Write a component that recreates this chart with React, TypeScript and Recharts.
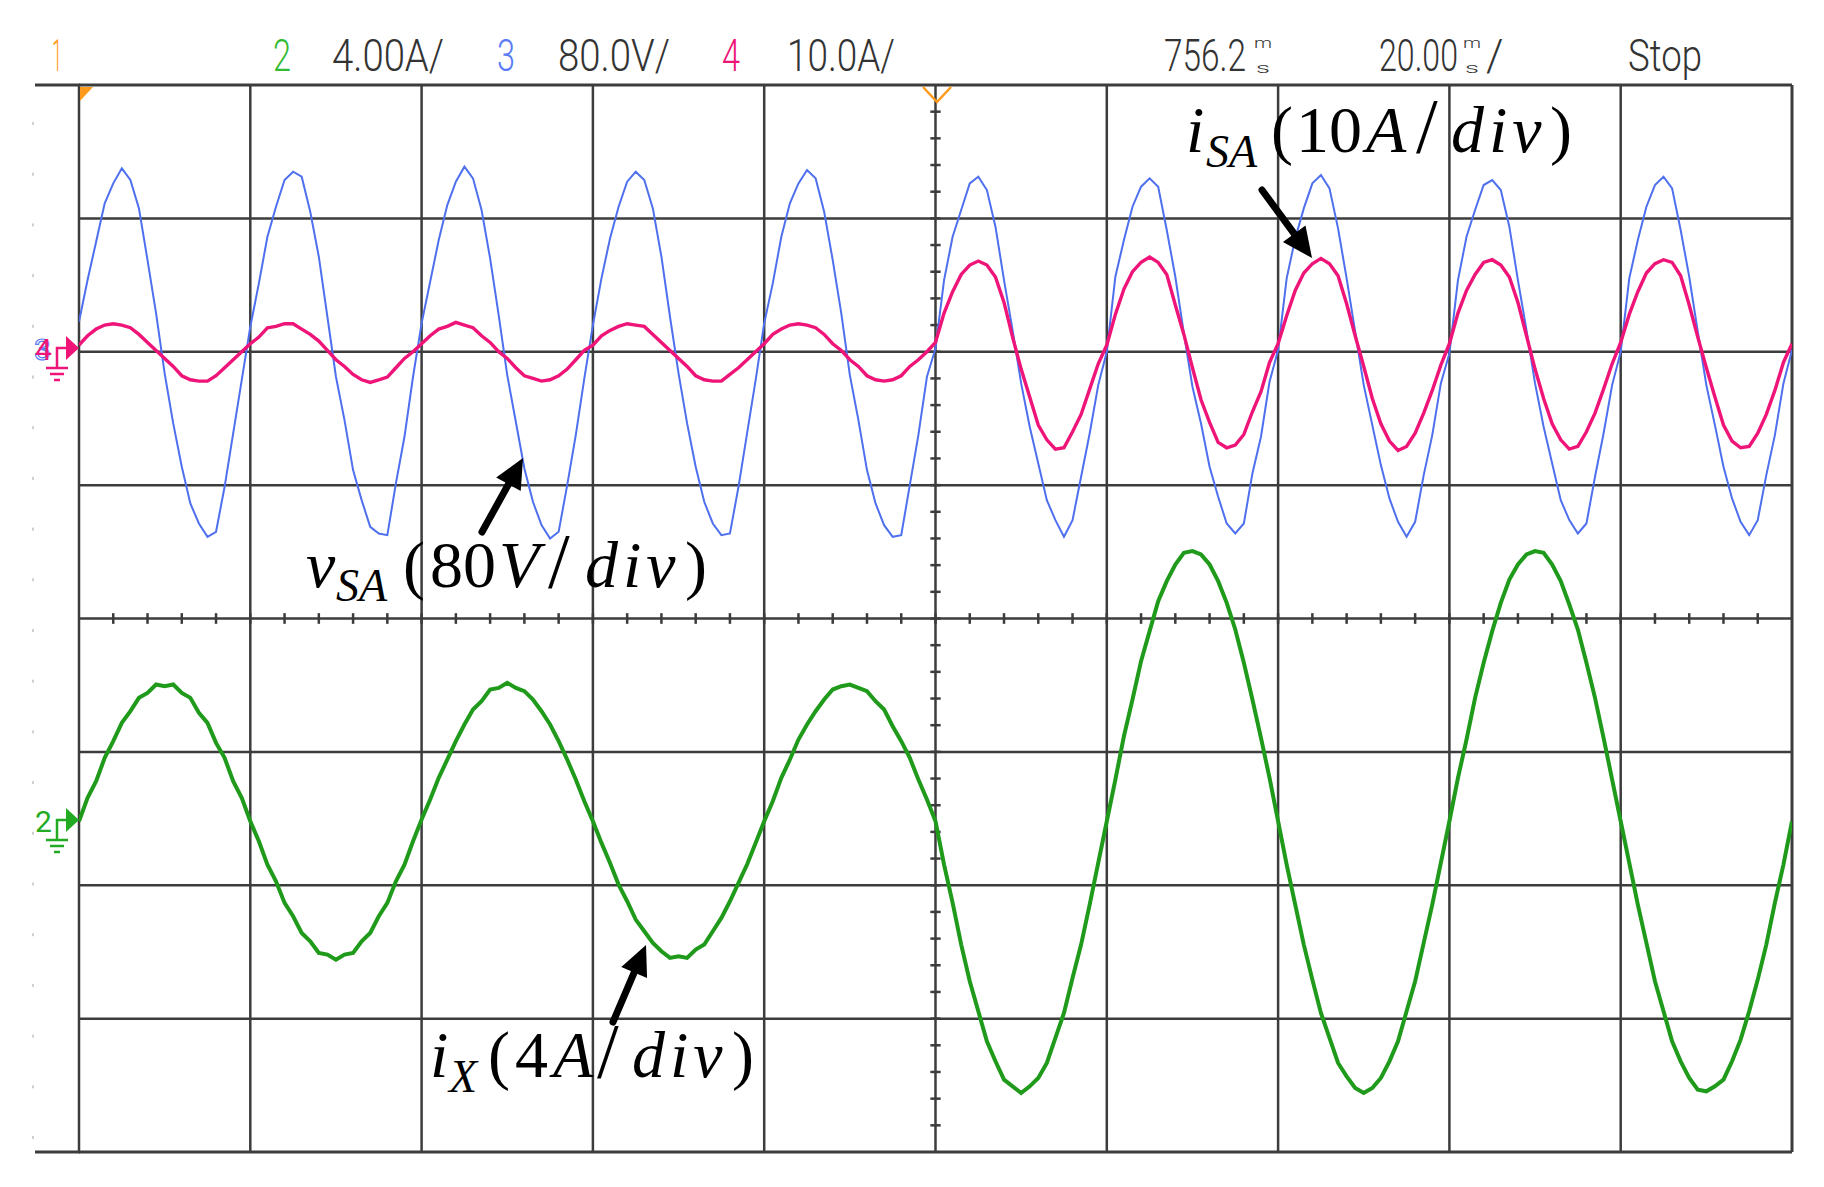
import React from 'react'
import { LineChart, Line, XAxis, YAxis, ReferenceLine } from 'recharts'

const W = 1824
const H = 1187
const MARGIN = { top: 85, right: 32, bottom: 35, left: 79 }

// one sample per ms, 20 ms/div, 10 divisions
// ch3: v_SA in volts (80 V/div)
const vSA = [
  18, 43, 66, 89, 101, 110, 103, 86, 55, 23, -13, -43, -69, -91, -103, -111, -108, -81, -49, -17,
  15, 41, 69, 87, 103, 108, 105, 84, 57, 21, -15, -41, -71, -89, -105, -109, -110, -79, -51, -15,
  17, 42, 67, 88, 102, 111, 104, 85, 56, 22, -14, -42, -70, -90, -104, -112, -108, -80, -50, -16,
  16, 44, 68, 87, 102, 108, 103, 86, 57, 21, -13, -43, -69, -90, -103, -110, -109, -81, -49, -17,
  17, 41, 69, 89, 101, 109, 104, 84, 55, 23, -14, -41, -71, -91, -104, -111, -110, -80, -50, -15,
  2, 43, 69, 85, 101, 105, 97, 75, 43, 13, -19, -45, -67, -89, -101, -111, -101, -75, -49, -20,
  0, 45, 67, 87, 99, 104, 99, 73, 45, 11, -21, -43, -69, -87, -103, -109, -103, -73, -51, -18,
  1, 44, 68, 86, 101, 106, 98, 74, 44, 12, -20, -44, -68, -88, -102, -111, -102, -74, -50, -19,
  -1, 43, 69, 85, 100, 103, 97, 75, 43, 13, -19, -45, -67, -89, -101, -109, -103, -75, -49, -20,
  0, 44, 67, 87, 100, 105, 98, 73, 45, 12, -20, -44, -69, -88, -102, -110, -101, -74, -50, -19,
  1,
]

// ch4: i_SA in amps (10 A/div)
const iSA = [
  0.5, 1.2, 1.7, 2.0, 2.1, 2.0, 1.8, 1.3, 0.7, 0.1, -0.5, -1.1, -1.8, -2.1, -2.2, -2.2, -1.8, -1.2, -0.6, 0.0,
  0.6, 1.1, 1.8, 1.9, 2.1, 2.1, 1.7, 1.3, 0.8, 0.1, -0.6, -1.1, -1.7, -2.1, -2.3, -2.1, -1.9, -1.2, -0.5, 0.0,
  0.6, 1.2, 1.7, 1.9, 2.2, 2.0, 1.8, 1.2, 0.7, 0.0, -0.5, -1.2, -1.8, -2.0, -2.2, -2.1, -1.8, -1.3, -0.6, 0.1,
  0.5, 1.2, 1.6, 1.9, 2.1, 2.0, 1.9, 1.3, 0.7, 0.1, -0.5, -1.1, -1.8, -2.1, -2.2, -2.2, -1.7, -1.2, -0.6, 0.0,
  0.6, 1.3, 1.7, 2.0, 2.1, 2.0, 1.8, 1.3, 0.6, 0.1, -0.6, -1.1, -1.8, -2.1, -2.2, -2.1, -1.8, -1.1, -0.6, 0.0,
  0.7, 2.9, 4.5, 5.8, 6.5, 6.8, 6.5, 5.6, 3.7, 1.1, -1.3, -3.4, -5.5, -6.6, -7.3, -7.2, -6.0, -4.7, -2.8, -0.9,
  0.5, 2.8, 4.7, 6.0, 6.7, 7.1, 6.7, 5.8, 3.5, 1.3, -1.2, -3.6, -5.3, -6.8, -7.2, -7.0, -6.2, -4.5, -3.0, -0.8,
  0.6, 2.7, 4.6, 5.9, 6.6, 7.0, 6.6, 5.7, 3.6, 1.2, -1.1, -3.5, -5.4, -6.7, -7.4, -7.1, -6.1, -4.6, -2.9, -1.0,
  0.6, 2.9, 4.6, 5.8, 6.7, 6.9, 6.5, 5.6, 3.7, 1.2, -1.3, -3.5, -5.4, -6.6, -7.3, -7.1, -6.0, -4.6, -2.8, -0.9,
  0.7, 2.8, 4.5, 5.9, 6.6, 6.9, 6.7, 5.7, 3.5, 1.1, -1.2, -3.4, -5.5, -6.7, -7.2, -7.1, -6.1, -4.7, -2.9, -0.8,
  0.6,
]

// ch2: i_X in amps (4 A/div)
const iX = [
  0, 0.7, 1.2, 1.9, 2.4, 2.95, 3.3, 3.7, 3.85, 4.1, 4.05, 4.1, 3.85, 3.7, 3.25, 2.95, 2.35, 1.9, 1.2, 0.7,
  0, -0.6, -1.3, -1.8, -2.45, -2.85, -3.35, -3.6, -3.95, -4.0, -4.15, -4.0, -3.95, -3.6, -3.35, -2.85, -2.45, -1.8, -1.3, -0.6,
  0.05, 0.65, 1.3, 1.85, 2.4, 2.9, 3.35, 3.6, 3.95, 4.0, 4.15, 4.0, 3.9, 3.65, 3.3, 2.9, 2.4, 1.85, 1.25, 0.6,
  0, -0.65, -1.25, -1.9, -2.4, -2.95, -3.3, -3.65, -3.9, -4.1, -4.05, -4.1, -3.85, -3.7, -3.3, -2.9, -2.4, -1.85, -1.3, -0.65,
  0, 0.6, 1.3, 1.85, 2.45, 2.9, 3.3, 3.65, 3.95, 4.05, 4.1, 4.0, 3.9, 3.6, 3.35, 2.85, 2.4, 1.9, 1.25, 0.65,
  0, -1.3, -2.45, -3.7, -4.8, -5.7, -6.6, -7.2, -7.75, -7.95, -8.15, -7.95, -7.7, -7.25, -6.5, -5.75, -4.7, -3.7, -2.5, -1.25,
  0, 1.25, 2.55, 3.65, 4.8, 5.7, 6.6, 7.2, 7.7, 8.05, 8.1, 8.0, 7.7, 7.2, 6.55, 5.75, 4.75, 3.65, 2.5, 1.3,
  0, -1.3, -2.5, -3.7, -4.75, -5.75, -6.5, -7.25, -7.65, -8.0, -8.15, -8.0, -7.7, -7.2, -6.6, -5.7, -4.8, -3.65, -2.5, -1.25,
  0, 1.3, 2.45, 3.7, 4.75, 5.7, 6.55, 7.25, 7.7, 8.0, 8.1, 8.05, 7.7, 7.2, 6.5, 5.75, 4.75, 3.7, 2.5, 1.25,
  0, -1.25, -2.5, -3.65, -4.8, -5.7, -6.6, -7.2, -7.7, -8.05, -8.1, -7.95, -7.75, -7.2, -6.55, -5.7, -4.75, -3.7, -2.45, -1.3,
  0,
]

const VOLT_PER_DIV = 80
const ISA_PER_DIV = 10
const IX_PER_DIV = 4
const CH34_ZERO = 6 // divisions above bottom edge
const CH2_ZERO = 2.48

const gridX = [0, 20, 40, 60, 80, 100, 120, 140, 160, 180, 200]
const gridY = [0, 1, 2, 3, 4, 5, 6, 7, 8]
const centerTicksX = Array.from({ length: 49 }, (_, i) => (i + 1) * 4)
const centerTicksY = Array.from({ length: 39 }, (_, i) => (i + 1) * 0.2)

const rows = vSA.map((v, i) => ({
  t: i,
  blue: CH34_ZERO + v / VOLT_PER_DIV,
  pink: CH34_ZERO + iSA[i] / ISA_PER_DIV,
  green: CH2_ZERO + iX[i] / IX_PER_DIV,
}))

const ORANGE = '#ff9a1a'
const GREEN = '#1f9a1a'
const BLUE = '#4f70ee'
const PINK = '#ee1478'
const GRID = '#3c3c3c'
const SCOPE_FONT = "Roboto, 'DejaVu Sans', sans-serif"
const MATH_FONT = "'Liberation Serif', 'DejaVu Serif', serif"

function Arrow({ x1, y1, x2, y2 }: { x1: number; y1: number; x2: number; y2: number }) {
  const dx = x2 - x1
  const dy = y2 - y1
  const len = Math.hypot(dx, dy)
  const ux = dx / len
  const uy = dy / len
  const hl = 30
  const hw = 14
  const bx = x2 - ux * hl
  const by = y2 - uy * hl
  return (
    <g>
      <line x1={x1} y1={y1} x2={bx + ux * 2} y2={by + uy * 2} stroke="#000" strokeWidth={7} strokeLinecap="round" />
      <polygon
        points={`${x2},${y2} ${bx - uy * hw},${by + ux * hw} ${bx + uy * hw},${by - ux * hw}`}
        fill="#000"
      />
    </g>
  )
}

function Ground({ y, color }: { y: number; color: string }) {
  return (
    <g stroke={color} strokeWidth={2.5} fill="none">
      <polygon points={`66,${y - 12} 79,${y} 66,${y + 12}`} fill={color} stroke="none" />
      <path d={`M66 ${y} H57 V${y + 20}`} />
      <line x1={46} y1={y + 20} x2={68} y2={y + 20} />
      <line x1={50} y1={y + 26} x2={64} y2={y + 26} />
      <line x1={54} y1={y + 32} x2={60} y2={y + 32} />
    </g>
  )
}

// stacked "m over s" unit glyph used by the scope readout
function StackedMs({ x }: { x: number }) {
  return (
    <>
      <text x={x} y={48} fontSize={14} textLength={18} lengthAdjust="spacingAndGlyphs">m</text>
      <text x={x + 2} y={73} fontSize={14} textLength={14} lengthAdjust="spacingAndGlyphs">s</text>
    </>
  )
}

// condensed readout number, squeezed with a transform so its box stays narrow
function Squeezed({ x, sx, children }: { x: number; sx: number; children: string }) {
  return (
    <text transform={`translate(${x},71) scale(${sx},1)`}>{children}</text>
  )
}

function Overlay() {
  const dots = Array.from({ length: 21 }, (_, k) => 122 + k * 50.7)
  return (
    <svg width={W} height={H} style={{ position: 'absolute', left: 0, top: 0, pointerEvents: 'none' }}>
      {/* frame stubs left of the graticule */}
      <line x1={35} y1={85} x2={80} y2={85} stroke={GRID} strokeWidth={3} />
      <line x1={35} y1={1152} x2={80} y2={1152} stroke={GRID} strokeWidth={3} />
      {dots.map((d) => (
        <rect key={d} x={32} y={d} width={2} height={3} fill="#cfcfcf" />
      ))}

      {/* header */}
      <g fontFamily={SCOPE_FONT} fontWeight={300} fontSize={44} fill="#333">
        <text x={52} y={71} fill={ORANGE} textLength={10} lengthAdjust="spacingAndGlyphs">1</text>
        <text x={273} y={71} fill="#33bb33" textLength={18} lengthAdjust="spacingAndGlyphs">2</text>
        <text x={332} y={71} textLength={112} lengthAdjust="spacingAndGlyphs">4.00A/</text>
        <text x={497} y={71} fill="#5b7cf5" textLength={18} lengthAdjust="spacingAndGlyphs">3</text>
        <text x={558} y={71} textLength={112} lengthAdjust="spacingAndGlyphs">80.0V/</text>
        <text x={722} y={71} fill={PINK} textLength={18} lengthAdjust="spacingAndGlyphs">4</text>
        <text x={787} y={71} textLength={108} lengthAdjust="spacingAndGlyphs">10.0A/</text>
        <Squeezed x={1164} sx={0.76}>756.2</Squeezed>
        <StackedMs x={1254} />
        <Squeezed x={1379} sx={0.73}>20.00</Squeezed>
        <StackedMs x={1463} />
        <text x={1486} y={71}>/</text>
        <text x={1628} y={71} textLength={74} lengthAdjust="spacingAndGlyphs">Stop</text>
      </g>

      {/* trigger markers */}
      <polygon points="80,87 93,87 80,101" fill={ORANGE} />
      <polyline points="923,87 937,102 951,87" fill="none" stroke={ORANGE} strokeWidth={2.5} />

      {/* channel ground references */}
      <text x={34} y={360} fontFamily={SCOPE_FONT} fontSize={30} fill="none" stroke="#5b7cf5" strokeWidth={1.2}>3</text>
      <text x={35} y={360} fontFamily={SCOPE_FONT} fontSize={30} fill={PINK}>4</text>
      <Ground y={348} color={PINK} />
      <text x={35} y={832} fontFamily={SCOPE_FONT} fontSize={30} fill="#22aa22">2</text>
      <Ground y={820} color="#22aa22" />

      {/* annotations */}
      <g fontFamily={MATH_FONT} fontSize={66} fill="#000">
        <text y={587}>
          <tspan x={306} fontStyle="italic">v</tspan>
          <tspan x={336} y={601} fontSize={46} fontStyle="italic">SA</tspan>
          <tspan x={403} y={587}>(</tspan>
          <tspan x={430}>80</tspan>
          <tspan x={499} fontStyle="italic">V</tspan>
          <tspan x={548} fontSize={78}>/</tspan>
          <tspan x={585} fontStyle="italic" letterSpacing={5}>div</tspan>
          <tspan x={685}>)</tspan>
        </text>
        <text y={152}>
          <tspan x={1186} fontStyle="italic">i</tspan>
          <tspan x={1206} y={167} fontSize={46} fontStyle="italic">SA</tspan>
          <tspan x={1271} y={152}>(</tspan>
          <tspan x={1296}>10</tspan>
          <tspan x={1366} fontStyle="italic">A</tspan>
          <tspan x={1416} fontSize={78}>/</tspan>
          <tspan x={1451} fontStyle="italic" letterSpacing={5}>div</tspan>
          <tspan x={1550}>)</tspan>
        </text>
        <text y={1077}>
          <tspan x={430} fontStyle="italic">i</tspan>
          <tspan x={449} y={1092} fontSize={46} fontStyle="italic">X</tspan>
          <tspan x={488} y={1077}>(</tspan>
          <tspan x={515}>4</tspan>
          <tspan x={553} fontStyle="italic">A</tspan>
          <tspan x={597} fontSize={78}>/</tspan>
          <tspan x={632} fontStyle="italic" letterSpacing={5}>div</tspan>
          <tspan x={732}>)</tspan>
        </text>
      </g>
      <Arrow x1={482} y1={532} x2={523} y2={458} />
      <Arrow x1={1262} y1={190} x2={1312} y2={258} />
      <Arrow x1={613} y1={1022} x2={646} y2={945} />
    </svg>
  )
}

export default function App() {
  return (
    <div style={{ position: 'relative', width: W, height: H, background: '#fff' }}>
      <style>{'body{margin:0;background:#fff}'}</style>
      <LineChart width={W} height={H} data={rows} margin={MARGIN}>
        <XAxis dataKey="t" type="number" domain={[0, 200]} hide allowDataOverflow />
        <YAxis type="number" domain={[0, 8]} hide allowDataOverflow />
        {gridX.map((x) => (
          <ReferenceLine key={`gx${x}`} x={x} stroke={GRID} strokeWidth={x === 200 ? 3 : 2.5} />
        ))}
        {gridY.map((y) => (
          <ReferenceLine key={`gy${y}`} y={y} stroke={GRID} strokeWidth={y === 0 || y === 8 ? 3 : 2.5} />
        ))}
        {centerTicksX.map((x) => (
          <ReferenceLine
            key={`tx${x}`}
            segment={[{ x, y: 3.96 }, { x, y: 4.04 }]}
            stroke={GRID}
            strokeWidth={2.5}
          />
        ))}
        {centerTicksY.map((y) => (
          <ReferenceLine
            key={`ty${y}`}
            segment={[{ x: 99.4, y }, { x: 100.6, y }]}
            stroke={GRID}
            strokeWidth={2.5}
          />
        ))}
        <Line dataKey="blue" type="linear" stroke={BLUE} strokeWidth={2} dot={false} activeDot={false} isAnimationActive={false} />
        <Line dataKey="pink" type="linear" stroke={PINK} strokeWidth={3.4} dot={false} activeDot={false} isAnimationActive={false} />
        <Line dataKey="green" type="linear" stroke={GREEN} strokeWidth={4} dot={false} activeDot={false} isAnimationActive={false} />
      </LineChart>
      <Overlay />
    </div>
  )
}
